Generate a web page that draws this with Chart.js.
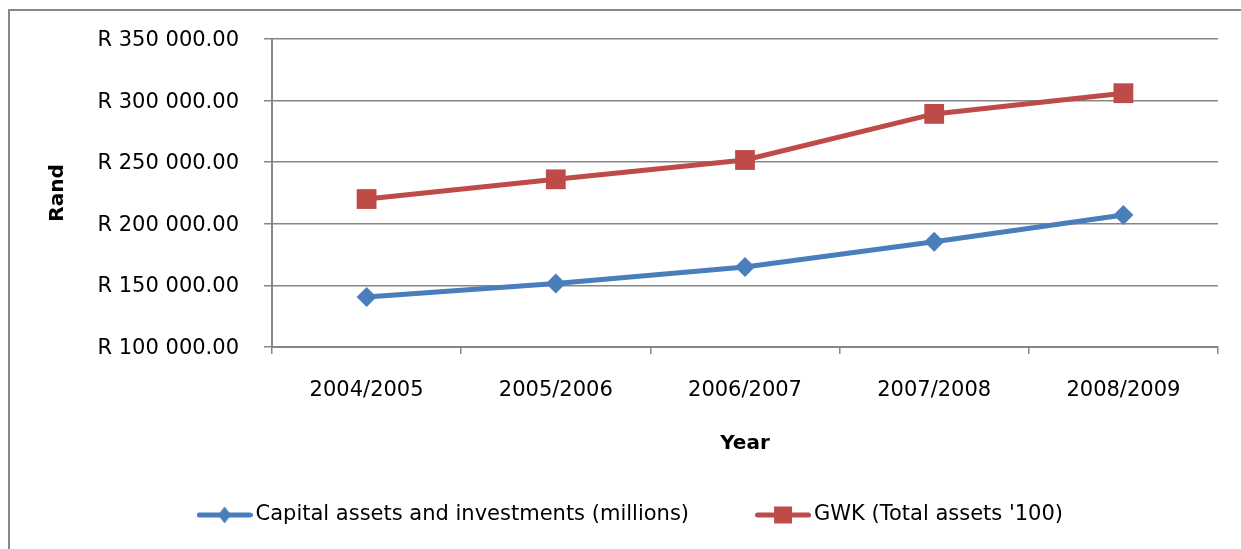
<!DOCTYPE html>
<html>
<head>
<meta charset="utf-8">
<title>Rand</title>
<script src="https://cdn.jsdelivr.net/npm/chart.js@4.4.1/dist/chart.umd.min.js"></script>
<style>
  html, body { margin: 0; padding: 0; background: #fff; }
  #wrap { position: relative; width: 1241px; height: 549px; overflow: hidden; }
  #frame { position: absolute; left: 8px; top: 9px; width: 1400px; height: 700px; border: 2px solid #878787; box-sizing: border-box; }
  #chart { position: absolute; left: 0; top: 0; }
</style>
</head>
<body>
<div id="wrap">
  <div id="frame"></div>
  <canvas id="chart" width="1241" height="549"></canvas>
</div>
<script>
  // financial years on the x axis
  const years = ["2004/2005", "2005/2006", "2006/2007", "2007/2008", "2008/2009"];

  // series values in rand
  const capitalAssets = [140650, 151500, 165000, 185400, 207100];
  const gwkTotalAssets = [220100, 236100, 251800, 289200, 306000];

  const seriesNames = ["Capital assets and investments (millions)", "GWK (Total assets '100)"];

  // y axis range
  const yMin = 100000;
  const yMax = 350000;
  const yStep = 50000;

  const BLUE = "#4A7EBB";
  const RED = "#BE4B48";
  const GREY = "#868686";
  const FONT = "'DejaVu Sans', sans-serif";

  // "R 350 000.00"
  function fmtRand(v) {
    return "R " + Math.round(v).toString().replace(/\B(?=(\d{3})+(?!\d))/g, " ") + ".00";
  }

  // little line + marker sample used as the legend symbol
  function legendMark(color, shape) {
    const c = document.createElement("canvas");
    c.width = 56;
    c.height = 24;
    const g = c.getContext("2d");
    g.strokeStyle = color;
    g.lineWidth = 5;
    g.lineCap = "round";
    g.beginPath();
    g.moveTo(2.5, 12);
    g.lineTo(53.5, 12);
    g.stroke();
    g.fillStyle = color;
    g.beginPath();
    if (shape === "diamond") {
      g.moveTo(28, 3.5);
      g.lineTo(34.5, 12);
      g.lineTo(28, 20.5);
      g.lineTo(21.5, 12);
      g.closePath();
    } else {
      g.rect(19, 3.5, 18, 17);
    }
    g.fill();
    return c;
  }

  const marks = [legendMark(BLUE, "diamond"), legendMark(RED, "square")];

  Chart.defaults.color = "#000";
  Chart.defaults.font.family = FONT;

  new Chart(document.getElementById("chart"), {
    type: "line",
    data: {
      labels: years,
      datasets: [
        {
          label: seriesNames[0],
          data: capitalAssets,
          borderColor: BLUE,
          backgroundColor: BLUE,
          borderWidth: 5,
          tension: 0,
          pointStyle: "rectRot",
          pointRadius: 10,
          pointBorderWidth: 0,
          pointBackgroundColor: BLUE
        },
        {
          label: seriesNames[1],
          data: gwkTotalAssets,
          borderColor: RED,
          backgroundColor: RED,
          borderWidth: 5,
          tension: 0,
          pointStyle: "rect",
          pointRadius: 14,
          pointBorderWidth: 0,
          pointBackgroundColor: RED
        }
      ]
    },
    options: {
      responsive: false,
      animation: false,
      layout: { padding: { left: 49, top: 39, right: 23, bottom: 13.5 } },
      scales: {
        x: {
          offset: true,
          grid: { offset: true, drawOnChartArea: false, drawTicks: true, tickLength: 7, tickColor: GREY, lineWidth: 1.5 },
          border: { display: true, color: GREY, width: 2 },
          ticks: { padding: 24.4, font: { size: 21 }, maxRotation: 0 },
          title: { display: true, text: "Year", font: { size: 20, weight: "bold" }, padding: { top: 0, bottom: -25 } },
          afterFit: s => { s.height = 84; }
        },
        y: {
          min: yMin,
          max: yMax,
          grid: { color: GREY, lineWidth: 1.5, tickLength: 8, tickColor: GREY },
          border: { display: true, color: GREY, width: 2 },
          ticks: { stepSize: yStep, padding: 25, labelOffset: 1.5, font: { size: 21 }, callback: v => fmtRand(v) },
          title: { display: true, text: "Rand", font: { size: 20, weight: "bold" }, padding: { top: -3, bottom: 0 } },
          afterFit: s => { s.width = 223; }
        }
      },
      plugins: {
        tooltip: { enabled: false },
        legend: {
          position: "bottom",
          labels: {
            usePointStyle: true,
            pointStyleWidth: 41,
            padding: 73.5,
            font: { size: 21 },
            generateLabels: chart => chart.data.datasets.map((ds, i) => ({
              text: ds.label,
              pointStyle: marks[i],
              fillStyle: ds.borderColor,
              strokeStyle: ds.borderColor,
              lineWidth: 0,
              fontColor: "#000",
              datasetIndex: i,
              hidden: false
            }))
          }
        }
      }
    }
  });
</script>
</body>
</html>
